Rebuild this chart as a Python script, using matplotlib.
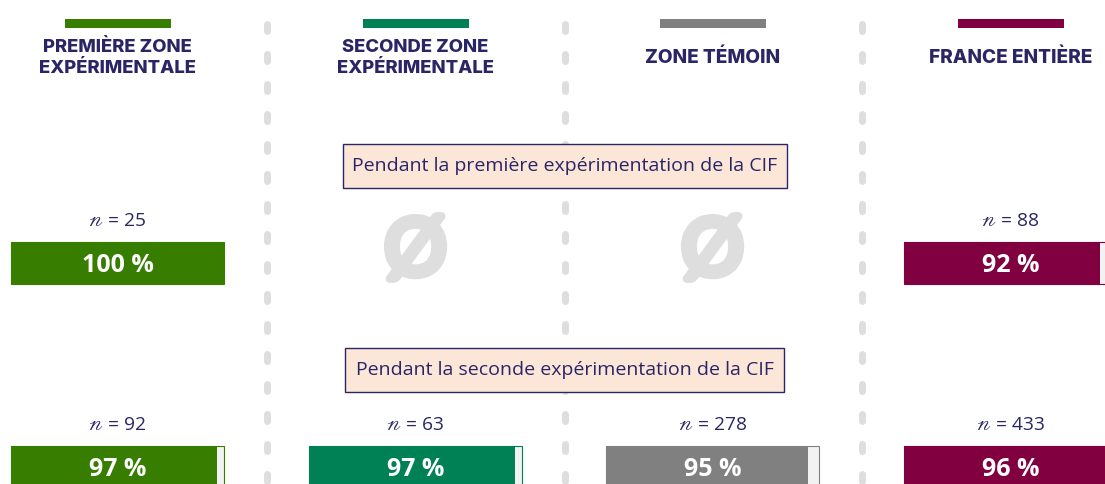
import matplotlib
matplotlib.use('Agg')
import matplotlib.pyplot as plt
import matplotlib.patheffects as pe
from matplotlib.patches import Rectangle

plt.rcParams['font.family'] = ['Open Sans', 'DejaVu Sans']

# Data
zones = ['PREMIÈRE ZONE\nEXPÉRIMENTALE', 'SECONDE ZONE\nEXPÉRIMENTALE', 'ZONE TÉMOIN', 'FRANCE ENTIÈRE']
zone_colors = ['#377E00', '#008055', '#808080', '#800040']
period_labels = ['Pendant la première expérimentation de la CIF',
                 'Pendant la seconde expérimentation de la CIF']
first_pct = [100, None, None, 92]
first_n = [25, None, None, 88]
second_pct = [97, 97, 95, 96]
second_n = [92, 63, 278, 433]

navy = '#2A2566'
separator_grey = '#DEDEDE'
rest_grey = '#F2F2F2'

# layout, in pixels of the 1105x484 picture
col_left = [11, 309, 606, 904]
col_width = 213
bar_width = 212.5
bar_height = 42
row_top = [242, 446]
box_spans = [(343, 786.5, 144, 188), (345, 784, 348, 392)]
separators = [267, 565, 862]


def drawSeparators(ax):
    # rounded dashes between the columns, 14 px long every 30 px
    for x in separators:
        ax.plot([x, x], [24, 500], color=separator_grey, linewidth=5.04,
                dashes=(7 / 7, 23 / 7), dash_capstyle='round', zorder=1)


def drawHeader(ax, i):
    center = col_left[i] + col_width / 2
    ax.barh(23.5, 106, height=9, left=center - 53, color=zone_colors[i], zorder=3)
    y = 58 if '\n' in zones[i] else 57.5
    size = 13.3 if '\n' in zones[i] else 13.7
    ax.text(center, y, zones[i], ha='center', va='center', color=navy,
            fontsize=size, fontweight='heavy', family=['Inter', 'DejaVu Sans'],
            linespacing=1.3, zorder=3)


def drawBar(ax, i, top, pct, n):
    center = col_left[i] + col_width / 2
    mid = top + bar_height / 2
    if pct is None:
        # no data for this zone
        ax.text(center, mid - 10, 'Ø', ha='center', va='center', color=separator_grey,
                fontsize=56, family=['Lato', 'DejaVu Sans'], zorder=3,
                path_effects=[pe.withStroke(linewidth=6, foreground=separator_grey)])
        return
    ax.barh(mid, bar_width, height=bar_height, left=col_left[i], color=rest_grey,
            edgecolor=zone_colors[i], linewidth=0.8, zorder=2)
    ax.barh(mid, bar_width * pct / 100, height=bar_height, left=col_left[i],
            color=zone_colors[i], zorder=3)
    ax.text(center, mid + 2.5, f'{pct} %', ha='center', va='center', color='white',
            fontsize=18, fontweight='bold', zorder=4)
    ax.text(center, top - 20.5, f'$\\mathscr{{n}}$ = {n}', ha='center', va='center',
            color=navy, fontsize=13.8, fontweight='medium', math_fontfamily='stix', zorder=4)


fig = plt.figure(figsize=(11.05, 4.84), dpi=100)
ax = fig.add_axes([0, 0, 1, 1])
ax.set_xlim(0, 1105)
ax.set_ylim(484, 0)
ax.axis('off')

drawSeparators(ax)
for i in range(len(zones)):
    drawHeader(ax, i)
    drawBar(ax, i, row_top[0], first_pct[i], first_n[i])
    drawBar(ax, i, row_top[1], second_pct[i], second_n[i])

for label, (x0, x1, y0, y1) in zip(period_labels, box_spans):
    ax.add_patch(Rectangle((x0, y0), x1 - x0, y1 - y0, facecolor='#FBE6D8',
                           edgecolor=navy, linewidth=1, zorder=5))
    ax.text((x0 + x1) / 2, (y0 + y1) / 2, label, ha='center', va='center',
            color=navy, fontsize=14, fontweight='medium', zorder=6)

fig.savefig('out.png', dpi=100)
